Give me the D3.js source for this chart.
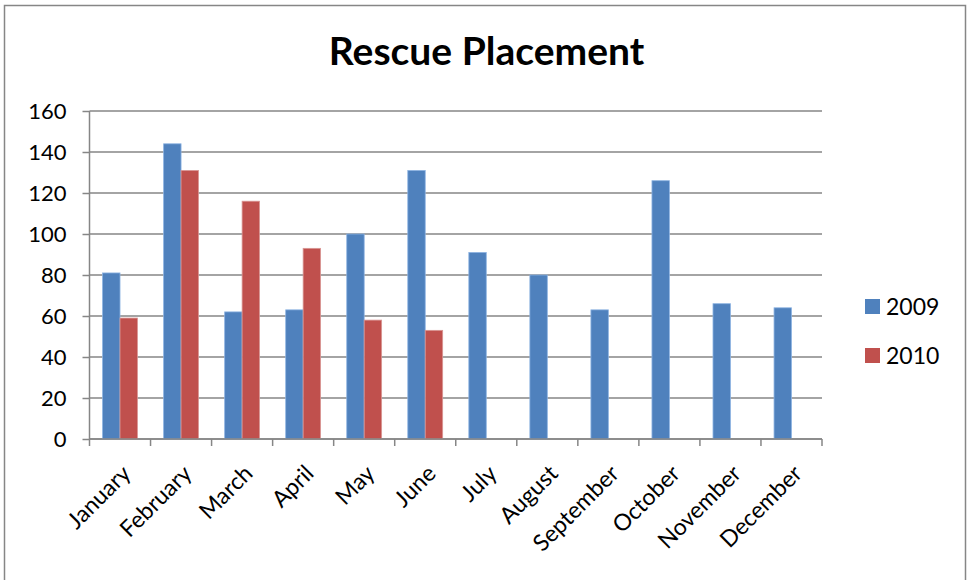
<!DOCTYPE html>
<html>
<head>
<meta charset="utf-8">
<script src="https://cdn.jsdelivr.net/npm/d3@7"></script>
<style>
  body { margin: 0; background: #fff; }
  svg { display: block; font-family: Lato, "Open Sans", sans-serif; }
</style>
</head>
<body>
<svg width="969" height="580"></svg>
<script>
// data
const months = ["January","February","March","April","May","June","July","August","September","October","November","December"];
const series = ["2009","2010"];
const values2009 = [81,144,62,63,100,131,91,80,63,126,66,64];
const values2010 = [59,131,116,93,58,53,null,null,null,null,null,null];
const yTicks = [0,20,40,60,80,100,120,140,160];
const colors = ["#4F81BD","#C0504D"];
const edges = ["#8DB3E2","#D99694"];

const svg = d3.select('svg');
const margin = { top: 111, left: 89.5 };
const innerWidth = 822 - margin.left;
const innerHeight = 439 - margin.top;

// outer chart border (runs off the bottom like the reference)
svg.append('rect')
  .attr('x', 4.5).attr('y', 5.5)
  .attr('width', 961).attr('height', 620)
  .attr('fill', 'none').attr('stroke', '#868686').attr('stroke-width', 1.5);

svg.append('text')
  .attr('x', 486.5).attr('y', 64.5)
  .attr('text-anchor', 'middle')
  .attr('font-weight', 'bold')
  .attr('font-size', 39)
  .text('Rescue Placement');

const g = svg.append('g').attr('transform', `translate(${margin.left},${margin.top})`);

const xScale = d3.scaleBand().domain(months).range([0, innerWidth]);
const xInner = d3.scaleBand().domain(series).range([0, xScale.bandwidth()]).paddingOuter(0.75);
const yScale = d3.scaleLinear().domain([0, 160]).range([innerHeight, 0]);

// gridlines
g.selectAll('.grid')
  .data(yTicks)
  .enter()
  .append('line')
  .attr('x1', 0).attr('x2', innerWidth)
  .attr('y1', d => yScale(d)).attr('y2', d => yScale(d))
  .attr('stroke', '#868686').attr('stroke-width', 1.5);

// y axis
const yAxis = d3.axisLeft(yScale).tickValues(yTicks).tickSize(7).tickPadding(16);
const ya = g.append('g').call(yAxis);
ya.select('.domain').remove();
ya.append('line').attr('x1', 0).attr('x2', 0).attr('y1', 0).attr('y2', innerHeight)
  .attr('stroke', '#868686').attr('stroke-width', 1.5);
ya.selectAll('.tick line').attr('stroke', '#868686').attr('stroke-width', 1.5);
ya.selectAll('.tick text').attr('font-size', 22).attr('fill', '#000').attr('font-family', 'Lato');

// bars
const rows = months.map((m, i) => ({ month: m, vals: [values2009[i], values2010[i]] }));
const groups = g.selectAll('.grp')
  .data(rows)
  .enter()
  .append('g')
  .attr('transform', d => `translate(${xScale(d.month)},0)`);
groups.selectAll('rect')
  .data(d => d.vals.map((v, j) => ({ key: series[j], v: v, j: j })).filter(e => e.v != null))
  .enter()
  .append('rect')
  .attr('x', d => xInner(d.key))
  .attr('width', xInner.bandwidth())
  .attr('y', d => yScale(d.v))
  .attr('height', d => innerHeight - yScale(d.v))
  .attr('fill', d => colors[d.j])
  .attr('stroke', d => edges[d.j])
  .attr('stroke-width', 0.8);

// x axis
const xAxis = g.append('g').attr('transform', `translate(0,${innerHeight})`);
xAxis.append('line').attr('x1', 0).attr('x2', innerWidth)
  .attr('stroke', '#868686').attr('stroke-width', 1.5);
xAxis.selectAll('.xt')
  .data(d3.range(months.length + 1))
  .enter()
  .append('line')
  .attr('x1', i => i * xScale.step()).attr('x2', i => i * xScale.step())
  .attr('y1', 0).attr('y2', 7)
  .attr('stroke', '#868686').attr('stroke-width', 1.5);
xAxis.selectAll('.xl')
  .data(months)
  .enter()
  .append('text')
  .attr('transform', d => `translate(${xScale(d) + xScale.bandwidth() / 2 + 12},${36}) rotate(-45)`)
  .attr('text-anchor', 'end')
  .attr('font-size', 23)
  .text(d => d);

// legend
const legend = svg.append('g').attr('transform', 'translate(865,299)');
legend.selectAll('rect')
  .data(series)
  .enter()
  .append('rect')
  .attr('x', 0).attr('y', (d, i) => i * 49)
  .attr('width', 15).attr('height', 15)
  .attr('fill', (d, i) => colors[i]);
legend.selectAll('text')
  .data(series)
  .enter()
  .append('text')
  .attr('x', 21).attr('y', (d, i) => i * 49 + 15.5)
  .attr('font-size', 23)
  .text(d => d);
</script>
</body>
</html>
